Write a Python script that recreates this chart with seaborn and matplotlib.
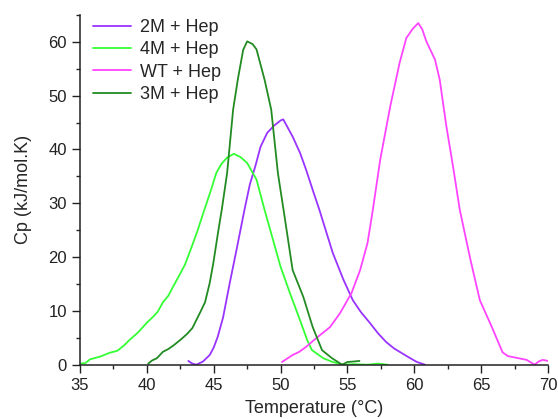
import pandas as pd
import matplotlib.pyplot as plt
import seaborn as sns
from matplotlib.ticker import MultipleLocator

# 2M + Hep
t_2m = [43.1, 43.4, 43.7, 44.2, 44.7, 45.0, 45.3, 45.7, 46.2, 46.7, 47.3, 47.7, 48.1, 48.5,
        49.0, 49.5, 50.0, 50.2, 50.9, 51.45, 51.9, 52.4, 52.9, 53.9, 54.7, 55.4, 56.0,
        56.7, 57.3, 57.9, 58.5, 59.1, 59.7, 60.2, 60.8]
cp_2m = [0.7, 0.2, 0.0, 0.6, 1.8, 3.2, 5.2, 8.8, 15.2, 21.3, 28.8, 33.5, 36.8, 40.5,
         43.1, 44.4, 45.4, 45.6, 42.4, 39.4, 36.3, 32.5, 28.8, 20.8, 15.8, 12.0, 9.8,
         7.7, 5.8, 4.2, 3.0, 2.1, 1.2, 0.5, 0.0]

# 4M + Hep
t_4m = [35.0, 35.4, 35.75, 36.5, 37.2, 37.8, 38.3, 38.7, 39.3, 40.0, 40.5, 40.8, 41.2, 41.6,
        41.96, 42.4, 42.85, 43.35, 43.8, 44.3, 44.8, 45.2, 45.6, 46.0, 46.5, 47.0, 47.5,
        48.2, 48.8, 49.4, 50.0, 50.7, 51.45, 52.0, 52.35, 53.2, 53.9, 54.7, 55.5, 56.5,
        57.3, 58.0]
cp_4m = [0.2, 0.3, 1.0, 1.5, 2.2, 2.6, 3.6, 4.6, 5.9, 7.8, 9.0, 9.8, 11.6, 12.8,
         14.5, 16.5, 18.6, 21.9, 25.0, 28.8, 32.5, 35.7, 37.4, 38.5, 39.2, 38.6, 37.5,
         34.4, 28.8, 23.5, 18.2, 13.3, 8.3, 4.5, 2.7, 1.2, 0.5, 0.0, 0.1, 0.0, 0.2, 0.0]

# WT + Hep
t_wt = [50.1, 50.9, 51.4, 51.9, 52.7, 53.7, 54.45, 55.3, 55.95, 56.5, 56.9, 57.45, 58.2,
        58.9, 59.4, 59.9, 60.3, 60.6, 60.9, 61.55, 61.9, 62.4, 62.9, 63.4, 64.2, 64.9,
        65.8, 66.6, 67.0, 67.4, 68.4, 69.0, 69.3, 69.6, 70.0]
cp_wt = [0.5, 1.8, 2.4, 3.3, 5.0, 7.0, 9.6, 13.3, 17.6, 22.6, 28.8, 38.1, 48.0,
         56.1, 60.7, 62.5, 63.5, 62.3, 60.1, 56.7, 53.0, 44.3, 36.8, 28.8, 19.5, 12.0,
         7.0, 2.3, 1.6, 1.4, 0.9, 0.0, 0.6, 0.9, 0.7]

# 3M + Hep
t_3m = [40.1, 40.4, 40.75, 41.2, 41.6, 42.0, 42.5, 43.0, 43.4, 43.7, 44.0, 44.35, 44.7,
        44.97, 45.35, 45.6, 46.0, 46.45, 46.8, 47.2, 47.5, 47.9, 48.2, 48.8, 49.3, 49.8,
        50.3, 50.9, 51.7, 52.4, 53.1, 53.85, 54.6, 55.0, 55.5, 55.9]
cp_3m = [0.2, 0.8, 1.2, 2.4, 2.9, 3.6, 4.6, 5.7, 6.8, 8.3, 9.8, 11.6, 15.2,
         18.9, 25.0, 28.8, 35.6, 47.4, 53.0, 58.5, 60.1, 59.6, 58.6, 53.0, 47.4, 35.6,
         27.5, 17.6, 12.6, 7.0, 2.7, 1.2, 0.0, 0.5, 0.6, 0.7]

labels = ['2M + Hep', '4M + Hep', 'WT + Hep', '3M + Hep']
colors = ['#9933FF', '#33FF33', '#FF44FF', '#228B22']

frames = []
for lab, t, cp in zip(labels, [t_2m, t_4m, t_wt, t_3m], [cp_2m, cp_4m, cp_wt, cp_3m]):
    frames.append(pd.DataFrame({'Temperature': t, 'Cp': cp, 'Sample': lab}))
df = pd.concat(frames, ignore_index=True)

sns.set_style('ticks')
plt.rcParams['font.family'] = ['Liberation Sans', 'DejaVu Sans']

fig = plt.figure(figsize=(5.58, 4.19), dpi=100)
ax = fig.add_axes([0.1434, 0.1296, 0.8387, 0.8346])

sns.lineplot(data=df, x='Temperature', y='Cp', hue='Sample', hue_order=labels,
             palette=colors, sort=False, estimator=None, linewidth=1.3, ax=ax)

ax.set_xlim(35, 70)
ax.set_ylim(0, 65)
ax.xaxis.set_major_locator(MultipleLocator(5))
ax.xaxis.set_minor_locator(MultipleLocator(2.5))
ax.yaxis.set_major_locator(MultipleLocator(10))
ax.yaxis.set_minor_locator(MultipleLocator(5))
ax.tick_params(which='major', length=6, width=1, labelsize=12, colors='#222222')
ax.tick_params(which='minor', length=3, width=1)
sns.despine(ax=ax)
for s in ['left', 'bottom']:
    ax.spines[s].set_color('#222222')
    ax.spines[s].set_linewidth(1.1)

ax.set_xlabel('Temperature (°C)', fontsize=13, labelpad=5)
ax.set_ylabel('Cp (kJ/mol.K)', fontsize=13, labelpad=12)

leg = ax.legend(loc='upper left', bbox_to_anchor=(0.0, 1.025), frameon=False,
                fontsize=13, handlelength=2.1, handletextpad=0.5, labelspacing=0.3,
                borderaxespad=0.3)
for line in leg.get_lines():
    line.set_linewidth(1.3)

fig.savefig('out.png', dpi=100)
